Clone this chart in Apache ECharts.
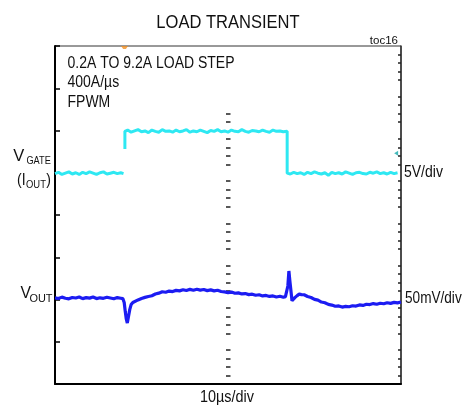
<!DOCTYPE html>
<html>
<head>
<meta charset="utf-8">
<script src="https://cdn.jsdelivr.net/npm/echarts@6/dist/echarts.min.js"></script>
<style>
  html, body { margin: 0; padding: 0; background: #fff; }
  #c { width: 467px; height: 408px; }
</style>
</head>
<body>
<div id="c"></div>
<script>
// VGATE (IOUT) trace: time in µs, level in volts (5V/div). null breaks the trace at the fast rising edge.
const gateTime = [
  0, 1, 2, 3, 4, 5, 6, 7, 8, 9, 10, 11, 12, 13, 14, 15, 16, 17, 18, 19, 19.8,
  20.0,
  20.2, 20.2, 21, 22, 23, 24, 25, 26, 27, 28, 29, 30, 31, 32, 33, 34, 35, 36, 37, 38, 39, 40,
  41, 42, 43, 44, 45, 46, 47, 48, 49, 50, 51, 52, 53, 54, 55, 56, 57, 58, 59, 60,
  61, 62, 63, 64, 65, 66, 67.1,
  67.1, 68, 69, 70, 71, 72, 73, 74, 75, 76, 77, 78, 79, 80, 81, 82, 83, 84, 85, 86, 87, 88,
  89, 90, 91, 92, 93, 94, 95, 96, 97, 98, 99, 100
];
const gateVolts = [
  -0.1, 0.05, -0.2, -0.05, 0.1, -0.15, 0.0, -0.2, 0.05, -0.1, 0.1, -0.05, -0.2, 0.0, 0.1, -0.15, -0.05, 0.05, -0.1, 0.0, -0.1,
  null,
  2.8, 4.9, 5.05, 4.8, 4.95, 5.1, 4.85, 4.95, 4.75, 5.05, 4.9, 4.8, 5.1, 4.9, 4.95, 4.8, 5.05, 4.85, 4.95, 5.1, 4.8, 4.95,
  4.85, 5.05, 4.9, 4.75, 5.0, 4.9, 5.1, 4.85, 4.95, 4.8, 5.05, 4.9, 4.85, 5.1, 4.9, 4.8, 5.0, 4.95, 4.85, 5.05,
  4.9, 4.8, 5.05, 4.9, 4.95, 4.85, 4.9,
  -0.05, -0.15, 0.05, -0.1, 0.0, -0.2, 0.05, -0.1, 0.1, -0.05, -0.15, 0.0, -0.3, 0.05, -0.1, 0.0, -0.15, 0.1, -0.05, -0.2,
  0.0, 0.05, -0.1, -0.15, 0.05, -0.05, 0.1, -0.1, 0.0, -0.15, 0.05, -0.1, 0.0
];

// VOUT trace: time in µs, deviation in mV (50mV/div)
const voutTime = [
  0, 1, 2, 3, 4, 5, 6, 7, 8, 9, 10, 11, 12, 13, 14, 15, 16, 17, 18, 19, 19.6,
  20.0, 20.3, 20.6, 20.9, 21.2, 21.6, 22.0, 22.5, 23, 24, 25, 26, 27, 28, 29, 30,
  31, 32, 33, 34, 35, 36, 37, 38, 39, 40, 41, 42, 43, 44, 45, 46, 47, 48, 49, 50,
  51, 52, 53, 54, 55, 56, 57, 58, 59, 60, 61, 62, 63, 64, 65, 66, 66.6,
  67.0, 67.3, 67.6, 67.9, 68.2, 68.5, 68.9, 69.4, 70, 70.6, 71.2, 72, 73, 74, 75,
  76, 77, 78, 79, 80, 81, 82, 83, 84, 85, 86, 87, 88, 89, 90, 91, 92, 93, 94, 95,
  96, 97, 98, 99, 100
];
const voutMv = [
  2.0, 1.2, 2.8, 1.5, 0.8, 2.4, 1.8, 3.0, 1.0, 2.2, 1.6, 2.9, 1.1, 2.0, 1.4, 2.6, 1.8, 0.9, 2.3, 1.5, 1.0,
  -3.5, -14, -23, -27.8, -21, -12, -6, -3.5, -2, -0.5, 1.2, 2.5, 3.6, 4.5, 6.5, 7.5,
  9.2, 8.6, 10.0, 9.4, 10.8, 10.2, 11.5, 10.6, 12.0, 11.0, 12.2, 11.1, 11.8, 10.5, 11.4, 10.2, 10.9, 9.5, 9.0, 8.2,
  8.8, 7.4, 7.8, 6.6, 7.0, 5.8, 6.3, 5.0, 5.6, 4.2, 4.8, 3.6, 4.2, 3.0, 3.8, 2.6, 3.4,
  4.5, 16, 33.7, 21, 10, -1.5, -0.5, 2.5, 4.6, 6.5, 5.8, 5.6, 3.6, 2.4, 0.2,
  -0.8, -3.0, -3.8, -5.8, -6.6, -8.0, -7.6, -9.0, -8.2, -8.6, -7.4, -7.8, -6.4, -7.0, -5.6, -6.0, -4.8, -5.6, -4.4, -5.0,
  -3.8, -4.6, -3.4, -4.0, -3.0
];

// Scope markers: trigger position (µs, drawn on the top edge) and trigger level (V, right edge)
const triggerTime = [20.1];
const triggerLevelTime = [98.6];
const triggerLevel = [2.3];

const gateData = gateTime.map((t, i) => [t, gateVolts[i]]);
const voutData = voutTime.map((t, i) => [t, voutMv[i]]);

const FONT = '"Liberation Sans", Arial, sans-serif';
const SQUEEZE = 0.875;

function txt(text, x, y, size, align, sx) {
  return {
    type: 'text', x: x, y: y, scaleX: sx || SQUEEZE, silent: true, z: 10,
    style: { text: text, fontSize: size, fontFamily: FONT, fill: '#111', align: align, verticalAlign: 'middle' }
  };
}

const chart = echarts.init(document.getElementById('c'), null, { renderer: 'canvas' });

chart.setOption({
  animation: false,
  backgroundColor: '#fff',
  grid: { left: 55, right: 66, top: 46, bottom: 24, show: true, borderColor: '#333', borderWidth: 1, backgroundColor: 'transparent' },
  xAxis: [{
    type: 'value', min: 0, max: 100, interval: 10,
    axisLine: { show: true, onZero: false, lineStyle: { color: '#000', width: 2 } },
    axisTick: { show: false }, axisLabel: { show: false }, splitLine: { show: false }
  }],
  yAxis: [
    { // VGATE scale, left edge with major division ticks
      type: 'value', min: -25, max: 15, interval: 5, position: 'left',
      axisLine: { show: true, onZero: false, lineStyle: { color: '#000', width: 2 } },
      axisTick: { show: true, inside: true, length: 5, lineStyle: { color: '#000', width: 1.5 } },
      axisLabel: { show: false }, splitLine: { show: false }
    },
    { // VOUT scale, right edge with minor division ticks
      type: 'value', min: -100, max: 300, interval: 50, position: 'right',
      axisLine: { show: true, onZero: false, lineStyle: { color: '#333', width: 1.5 } },
      axisTick: { show: false, inside: true },
      minorTick: { show: true, splitNumber: 5, length: 3, lineStyle: { color: '#222', width: 1.5 } },
      axisLabel: { show: false }, splitLine: { show: false }
    },
    { // centre graticule line, drawn as minor dashes pointing left from x = 230.5
      type: 'value', min: -25, max: 15, interval: 5, position: 'left', offset: -175.5,
      axisLine: { show: false },
      axisTick: { show: false, inside: false },
      minorTick: { show: true, splitNumber: 5, length: 4.5, lineStyle: { color: '#222', width: 1.5 } },
      axisLabel: { show: false }, splitLine: { show: false }
    }
  ],
  series: [
    {
      name: 'VGATE', type: 'line', yAxisIndex: 0, data: gateData, showSymbol: false, connectNulls: false,
      lineStyle: { color: '#2ee8f2', width: 3 }, z: 3
    },
    {
      name: 'VOUT', type: 'line', yAxisIndex: 1, data: voutData, showSymbol: false,
      lineStyle: { color: '#1c1cf2', width: 3.2 }, z: 3
    },
    {
      name: 'trigger', type: 'scatter', yAxisIndex: 0, clip: false,
      data: triggerTime.map(t => [t, 15]),
      symbol: 'triangle', symbolRotate: 180, symbolSize: [7, 5], symbolOffset: [0, 2.5],
      itemStyle: { color: '#f39022' }, z: 5
    },
    {
      name: 'level', type: 'scatter', yAxisIndex: 0, clip: false,
      data: triggerLevelTime.map((t, i) => [t, triggerLevel[i]]),
      symbol: 'triangle', symbolRotate: 90, symbolSize: [5, 4],
      itemStyle: { color: '#17a7aa' }, z: 5
    }
  ],
  graphic: [
    // opaque box behind the test-condition notes
    { type: 'rect', shape: { x: 60, y: 49, width: 182, height: 62 }, style: { fill: '#fff' }, z: 9, silent: true },
    txt('LOAD TRANSIENT', 228, 22.5, 19, 'center', 0.87),
    txt('toc16', 398, 41, 11.5, 'right', 1),
    txt('0.2A TO 9.2A LOAD STEP', 67.5, 63.3, 16, 'left'),
    txt('400A/µs', 67.5, 82.3, 16, 'left'),
    txt('FPWM', 67.5, 102.5, 16, 'left'),
    txt('V', 13.3, 156, 16.5, 'left', 1),
    txt('GATE', 50.8, 161.3, 11.5, 'right', 0.8),
    txt('(I', 17, 180.5, 16, 'left'),
    txt('OUT', 26, 185, 11.5, 'left', 0.82),
    txt(')', 51, 180.5, 16, 'right'),
    txt('V', 20.5, 293.8, 16.5, 'left', 0.95),
    txt('OUT', 52.5, 298.6, 11.5, 'right', 0.95),
    txt('5V/div', 404, 172.5, 16, 'left'),
    txt('50mV/div', 405, 298.3, 16, 'left', 0.85),
    txt('10µs/div', 227, 398, 16, 'center', 0.9)
  ]
});
</script>
</body>
</html>
